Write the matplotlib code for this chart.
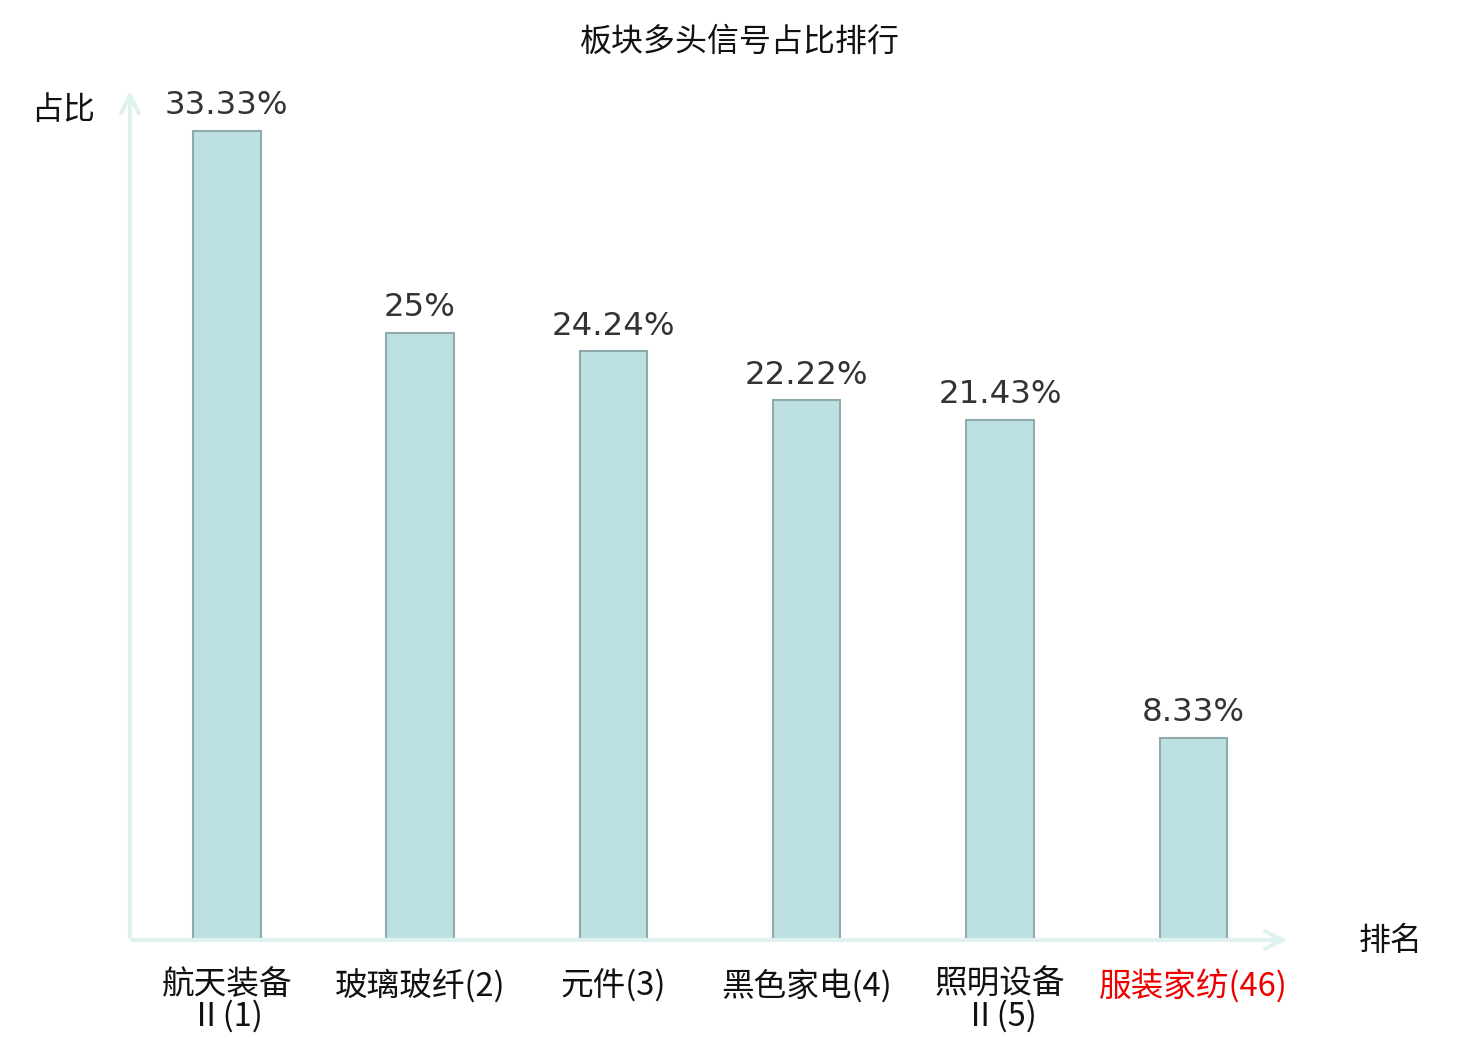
import matplotlib.pyplot as plt

plt.rcParams['font.family'] = ['Noto Sans CJK SC', 'DejaVu Sans']

# 数据
sectors = ['航天装备\nⅡ(1)', '玻璃玻纤(2)', '元件(3)', '黑色家电(4)', '照明设备\nⅡ(5)', '服装家纺(46)']
ratios = [33.33, 25, 24.24, 22.22, 21.43, 8.33]
value_labels = ['33.33%', '25%', '24.24%', '22.22%', '21.43%', '8.33%']
label_colors = ['#111111', '#111111', '#111111', '#111111', '#111111', '#ee0000']

fig = plt.figure(figsize=(14.8, 10.4), dpi=100)
ax = fig.add_axes([130 / 1480, 100 / 1040, 1160 / 1480, 852 / 1040])

x = range(len(sectors))
bars = ax.bar(x, ratios, width=0.35, color='#bde0e3', edgecolor='#8eaaab', linewidth=1.5)

for b, txt in zip(bars, value_labels):
    ax.annotate(txt, (b.get_x() + b.get_width() / 2, b.get_height()),
                xytext=(0, 7), textcoords='offset points', ha='center', va='bottom',
                fontsize=23.3, color='#333333', family='DejaVu Sans')

ax.set_xlim(-0.5, 5.5)
ax.set_ylim(0, 35.08)
ax.set_xticks(list(x))
ax.set_xticklabels(sectors, fontsize=23.5, linespacing=0.95)
for lbl, c in zip(ax.get_xticklabels(), label_colors):
    lbl.set_color(c)
ax.tick_params(axis='x', length=0, pad=21)
ax.set_yticks([])
for s in ax.spines.values():
    s.set_visible(False)

# 坐标轴箭头
axis_color = '#dff2ef'
ax.annotate('', xy=(1.0, 0), xytext=(0, 0), xycoords='axes fraction',
            arrowprops=dict(arrowstyle='->', color=axis_color, lw=3, mutation_scale=32),
            annotation_clip=False)
ax.annotate('', xy=(0, 1.0), xytext=(0, 0), xycoords='axes fraction',
            arrowprops=dict(arrowstyle='->', color=axis_color, lw=3, mutation_scale=32),
            annotation_clip=False)

fig.text(63 / 1480, 1 - 110 / 1040, '占比', ha='center', va='center', fontsize=23, color='#111111')
fig.text(1391 / 1480, 1 - 941 / 1040, '排名', ha='center', va='center', fontsize=23, color='#111111')
fig.text(740 / 1480, 1 - 42 / 1040, '板块多头信号占比排行', ha='center', va='center', fontsize=23, color='#111111')

fig.savefig('out.png', dpi=100)
